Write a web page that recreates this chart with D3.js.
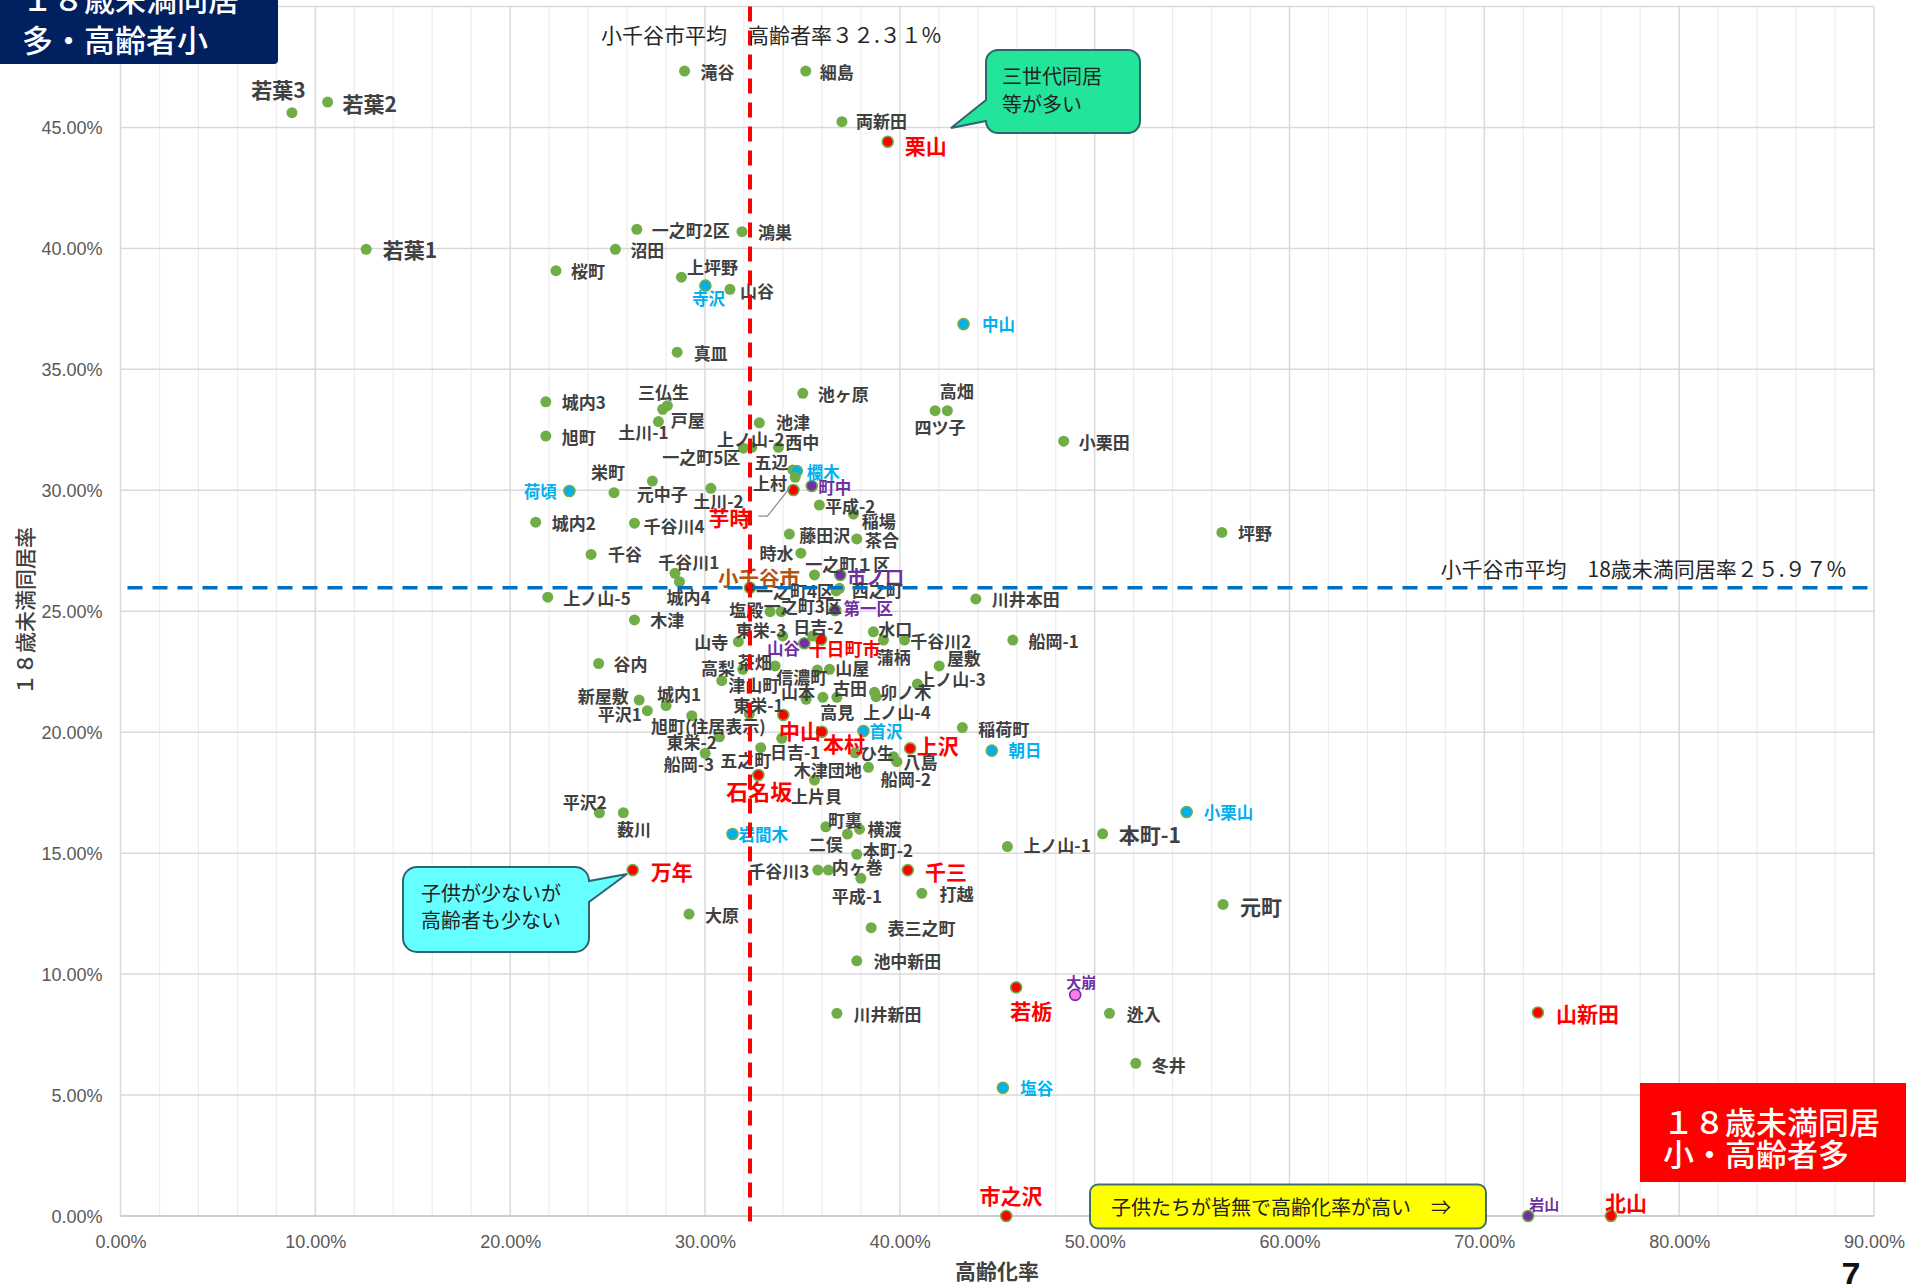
<!DOCTYPE html>
<html lang="ja">
<head>
<meta charset="utf-8">
<title>高齢化率と18歳未満同居率</title>
<script src="https://cdn.jsdelivr.net/npm/d3@7"></script>
<style>
  html, body { margin: 0; padding: 0; background: #fff; overflow: hidden; }
  svg { display: block; }
</style>
</head>
<body>
<div id="chart"></div>
<script>
// ---------------------------------------------------------------
// data: 地区別 高齢化率 (x) と 18歳未満同居率 (y), 単位 %
// group: g 通常, r 赤, c 水色, p 紫, k ピンク, a 市平均
// ---------------------------------------------------------------
const districtNames = [
    '若葉3', '若葉2', '若葉1', '滝谷', '細島', '両新田', '栗山', '一之町2区', '鴻巣', '沼田',
    '桜町', '上坪野', '寺沢', '山谷', '真皿', '中山', '池ヶ原', '高畑', '四ツ子', '小栗田',
    '城内3', '三仏生', '戸屋', '土川-1', '旭町', '池津', '一之町5区', '上ノ山-2', '西中', '五辺',
    '欄木', '上村', '町中', '芋時', '平成-2', '稲場', '茶合', '藤田沢', '時水', '一之町１区',
    '市ノ口', '小千谷市', '西之町', '一之町4区', '第一区', '塩殿', '一之町3区', '荷頃', '栄町', '元中子',
    '土川-2', '城内2', '千谷川4', '千谷', '千谷川1', '城内4', '上ノ山-5', '川井本田', '木津', '船岡-1',
    '山寺', '東栄-3', '日吉-2', '十日町市', '山谷', '水口', '蒲柄', '千谷川2', '屋敷', '上ノ山-3',
    '卯ノ木', '上ノ山-4', '古田', '高見', '山屋', '信濃町', '茶畑', '高梨', '津山町', '山本',
    '谷内', '新屋敷', '平沢1', '城内1', '旭町(住居表示)', '東栄-1', '中山', '本村', '首沢', '稲荷町',
    '朝日', '上沢', '東栄-2', '船岡-3', '日吉-1', '五之町', 'ひ生', '八島', '船岡-2', '木津団地',
    '石名坂', '上片貝', '平沢2', '薮川', '岩間木', '町裏', '二俣', '横渡', '本町-2', '千谷川3',
    '内ヶ巻', '平成-1', '万年', '千三', '打越', '大原', '表三之町', '池中新田', '上ノ山-1', '若栃',
    '川井新田', '大崩', '迯入', '冬井', '塩谷', '市之沢', '坪野', '小栗山', '本町-1', '元町',
    '山新田', '岩山', '北山'
];

const agingRates = [
    8.80, 10.63, 12.61, 28.95, 35.17, 37.03, 39.38, 26.50, 31.90, 25.40,
    22.35, 28.79, 30.02, 31.28, 28.57, 43.27, 35.02, 42.44, 41.81, 48.41,
    21.83, 28.07, 27.83, 27.61, 21.83, 32.79, 31.97, 32.40, 33.77, 34.51,
    34.71, 34.63, 35.48, 34.54, 35.87, 37.62, 37.79, 34.33, 34.92, 35.62,
    36.94, 32.31, 36.90, 36.73, 36.68, 33.34, 33.91, 23.04, 27.30, 25.33,
    30.30, 21.31, 26.38, 24.15, 28.46, 28.69, 21.93, 43.90, 26.38, 45.80,
    31.71, 33.99, 35.53, 35.96, 35.10, 38.64, 39.16, 40.24, 42.02, 40.90,
    38.70, 38.78, 36.77, 36.05, 36.39, 35.77, 33.60, 31.94, 30.86, 35.19,
    24.54, 26.62, 27.04, 28.00, 29.32, 32.28, 34.02, 36.00, 38.13, 43.21,
    44.72, 40.53, 30.74, 30.01, 33.94, 32.86, 37.70, 39.67, 39.85, 38.39,
    32.74, 35.62, 24.58, 25.81, 31.41, 36.20, 37.31, 37.93, 37.79, 35.79,
    36.33, 38.00, 26.29, 40.41, 41.13, 29.18, 38.53, 37.79, 45.52, 45.97,
    36.77, 49.00, 50.76, 52.11, 45.29, 45.46, 56.53, 54.72, 50.41, 56.59,
    72.75, 72.25, 76.50
];

const youthRates = [
    45.61, 46.05, 39.96, 47.33, 47.33, 45.24, 44.41, 40.79, 40.69, 39.96,
    39.08, 38.81, 38.46, 38.31, 35.71, 36.87, 34.01, 33.29, 33.29, 32.03,
    33.66, 33.50, 33.35, 32.84, 32.24, 32.79, 31.74, 31.78, 31.78, 30.84,
    30.80, 30.54, 30.18, 30.01, 29.39, 29.02, 27.99, 28.19, 27.40, 26.50,
    26.50, 25.97, 25.95, 25.84, 25.05, 24.98, 24.98, 29.97, 30.38, 29.90,
    30.08, 28.68, 28.64, 27.35, 26.57, 26.22, 25.58, 25.51, 24.64, 23.81,
    23.74, 23.98, 23.98, 23.83, 23.68, 24.15, 23.81, 23.81, 22.74, 21.99,
    21.65, 21.47, 21.44, 21.44, 22.60, 22.57, 22.74, 22.60, 22.13, 21.36,
    22.84, 21.33, 20.89, 21.10, 20.68, 20.75, 20.71, 20.02, 20.05, 20.19,
    19.24, 19.33, 19.81, 19.13, 19.75, 19.36, 19.15, 18.99, 18.78, 18.55,
    18.23, 18.02, 16.67, 16.67, 15.79, 16.09, 15.79, 15.99, 14.95, 14.30,
    14.30, 13.96, 14.30, 14.30, 13.34, 12.48, 11.92, 10.55, 15.27, 9.45,
    8.38, 9.14, 8.38, 6.31, 5.30, 0.00, 28.26, 16.70, 15.80, 12.88,
    8.41, 0.00, 0.00
];

const districtGroups = [
    'g', 'g', 'g', 'g', 'g', 'g', 'r', 'g', 'g', 'g',
    'g', 'g', 'c', 'g', 'g', 'c', 'g', 'g', 'g', 'g',
    'g', 'g', 'g', 'g', 'g', 'g', 'g', 'g', 'g', 'g',
    'c', 'g', 'p', 'r', 'g', 'g', 'g', 'g', 'g', 'g',
    'p', 'a', 'g', 'g', 'p', 'g', 'g', 'c', 'g', 'g',
    'g', 'g', 'g', 'g', 'g', 'g', 'g', 'g', 'g', 'g',
    'g', 'g', 'g', 'r', 'p', 'g', 'g', 'g', 'g', 'g',
    'g', 'g', 'g', 'g', 'g', 'g', 'g', 'g', 'g', 'g',
    'g', 'g', 'g', 'g', 'g', 'g', 'r', 'r', 'c', 'g',
    'c', 'r', 'g', 'g', 'g', 'g', 'g', 'g', 'g', 'g',
    'r', 'g', 'g', 'g', 'c', 'g', 'g', 'g', 'g', 'g',
    'g', 'g', 'r', 'r', 'g', 'g', 'g', 'g', 'g', 'r',
    'g', 'k', 'g', 'g', 'c', 'r', 'g', 'c', 'g', 'g',
    'r', 'p', 'r'
];

const averageAging = 32.31;
const averageYouth = 25.97;

const xTicks = [0, 10, 20, 30, 40, 50, 60, 70, 80, 90];
const yTicks = [0, 5, 10, 15, 20, 25, 30, 35, 40, 45, 50];

const xTitle = '高齢化率';
const yTitle = '１８歳未満同居率';

// ---------------------------------------------------------------
// label layout: [anchor s/m/e, dx, dy, font size (optional)]
// ---------------------------------------------------------------
const labelLayout = [
    ['m', -13.5, -24, 21], ['s', 15, 1, 21], ['s', 16.5, 0, 21], ['s', 16, 0], ['s', 14, 0], ['s', 14, -1], ['s', 17, 3], ['s', 15, 0], ['s', 16, 0], ['s', 15, 0],
    ['s', 15, 0], ['s', 5.6, -10.6], ['m', 3, 12.6], ['s', 10, 1.4], ['s', 16.5, 0], ['s', 18.5, 0], ['s', 15, 0.5], ['m', 9.4, -20.5], ['m', 5, 16], ['s', 15, 0],
    ['s', 16, 0], ['m', -4, -14], ['s', 8, 10], ['m', -15, 10], ['s', 16, 0], ['s', 16.7, -1], ['e', -3, 8], ['m', -1, -9], ['s', 6.7, -5.6], ['e', -4.4, -8.3],
    ['s', 10, 0.7], ['e', -8.3, 5.4], ['s', 6.6, 0.7], ['e', -43, 26.7], ['s', 5.7, 0], ['s', 8.4, 6], ['s', 8.3, 0.3], ['s', 10, 0], ['e', -7.4, -0.6], ['s', -9.3, -11.7],
    ['s', 6.7, 1.7, 19], ['m', 9, -11], ['s', 12.4, 1.7], ['e', -2, 0], ['s', 8.3, -1.7], ['e', -6.7, -2.4], ['m', 21.5, -6.7], ['e', -12.6, 0], ['e', -27.3, -9.3], ['s', 22.7, 0.6],
    ['m', 7.6, 11.7], ['s', 16, 0], ['s', 9, 2.4], ['s', 17, -1], ['m', 13.8, -11.6], ['m', 9, 15], ['s', 15.6, 0], ['s', 16, 0], ['s', 15.7, -0.7], ['s', 15.6, 0],
    ['e', -10, 0], ['m', -21.7, -6], ['m', 5.6, -9.3], ['s', -12.7, 8.8, 18], ['e', -4.3, 5], ['s', 5, -3.4], ['s', -6.6, 16], ['s', 5.7, 0], ['s', 7.7, -8.7], ['s', 1, -5.7],
    ['s', 5.7, -0.6], ['s', -12.7, 15], ['s', -4, -10], ['s', -2.7, 14.4], ['s', 5.7, -2], ['m', -15.6, 6.7], ['e', -3.3, -4.3], ['e', -7.7, -2], ['s', 6.6, 4.3], ['m', -8, -8.3],
    ['s', 14.8, 0], ['e', -10.5, -4.7], ['e', -5.5, 3], ['m', 13, -11.7], ['m', 16.6, 10], ['m', 9, -10], ['m', 16.7, 15], ['s', 1, 11], ['s', 6, 0], ['s', 16, 0.6],
    ['s', 16.6, -0.7], ['s', 6.7, -3.3], ['e', -2.6, 5], ['m', -16.3, 10], ['m', 13.3, 13.4], ['m', -15, 12.3], ['s', 5, 0], ['s', 10, 5], ['m', 9, 16.6], ['e', -6.6, 2],
    ['m', 0.8, 15, 22], ['m', 2, 15], ['m', -14.6, -11], ['m', 10.7, 15.6], ['s', 6, 0], ['m', 19.3, -7.4], ['e', -4.6, 9.3], ['s', 8, -1], ['s', 6, -5], ['e', -8.4, 0],
    ['s', 3.4, -3.3], ['m', -4, 16.7], ['s', 18, 0.7], ['s', 17.3, 0.7], ['s', 17.6, 0], ['s', 16, 0], ['s', 16.3, 0], ['s', 16.6, 0], ['s', 16, -2], ['m', 15, 22.5],
    ['s', 16.6, 0], ['m', 6, -13.3, 15], ['s', 17.4, 0], ['s', 16, 0.7], ['s', 17.3, 0.6], ['m', 4.8, -21], ['s', 16, 0], ['s', 17, 0], ['s', 16, 0, 21], ['s', 17, 1.2, 21],
    ['s', 18, 0], ['m', 16, -13, 15], ['m', 15, -14]
];

const JP = "'Noto Sans CJK JP', 'Noto Sans', sans-serif";
const NARROW = "'Liberation Sans Narrow', 'Liberation Sans', sans-serif";

// group styles
const dotFill = { g: '#70ad47', r: '#ff0000', c: '#00b0f0', p: '#7030a0', k: '#ff7be5', a: '#c00000' };
const dotStroke = { g: 'none', r: '#70ad47', c: '#70ad47', p: '#70ad47', k: '#7030a0', a: '#70ad47' };
const labelColor = { g: '#404040', r: '#ff0000', c: '#00b0f0', p: '#7030a0', k: '#7030a0', a: '#b5540f' };
const labelSize = { g: 17, r: 21, c: 16.5, p: 16.5, k: 15, a: 20.5 };
const labelWeight = { g: 700, r: 700, c: 700, p: 700, k: 700, a: 700 };

const W = 1906, H = 1284;
const margin = { left: 120.5, top: 6.5, right: 32, bottom: 68 };
const innerW = W - margin.left - margin.right;
const innerH = H - margin.top - margin.bottom;

const svg = d3.select('#chart').append('svg')
    .attr('width', W)
    .attr('height', H)
    .style('font-family', JP);

svg.append('rect').attr('width', W).attr('height', H).attr('fill', '#fff');

const x = d3.scaleLinear().domain([0, 90]).range([0, innerW]);
const y = d3.scaleLinear().domain([0, 50]).range([innerH, 0]);

const plot = svg.append('g').attr('transform', `translate(${margin.left},${margin.top})`);

// gridlines: minor vertical every 2%, major vertical every 10%, horizontal every 5%
plot.append('g').selectAll('line')
    .data(d3.range(0, 91, 2).filter(d => d % 10 !== 0))
    .enter().append('line')
    .attr('x1', d => x(d)).attr('x2', d => x(d))
    .attr('y1', 0).attr('y2', innerH)
    .attr('stroke', '#ededed').attr('stroke-width', 1.2);

plot.append('g').selectAll('line')
    .data(xTicks)
    .enter().append('line')
    .attr('x1', d => x(d)).attr('x2', d => x(d))
    .attr('y1', 0).attr('y2', innerH)
    .attr('stroke', '#d9d9d9').attr('stroke-width', 1.5);

plot.append('g').selectAll('line')
    .data(yTicks)
    .enter().append('line')
    .attr('x1', 0).attr('x2', innerW)
    .attr('y1', d => y(d)).attr('y2', d => y(d))
    .attr('stroke', d => d === 0 ? '#bfbfbf' : '#d9d9d9').attr('stroke-width', 1.5);

// axes
const xAxis = plot.append('g')
    .attr('transform', `translate(0,${innerH})`)
    .call(d3.axisBottom(x).tickValues(xTicks).tickSize(0).tickFormat(d => d.toFixed(2) + '%'));
xAxis.select('.domain').remove();
xAxis.selectAll('text')
    .attr('y', 26).attr('dy', '0.35em')
    .style('font-family', NARROW).style('font-size', '18px').attr('fill', '#595959');

const yAxis = plot.append('g')
    .call(d3.axisLeft(y).tickValues(yTicks).tickSize(0).tickPadding(18).tickFormat(d => d.toFixed(2) + '%'));
yAxis.select('.domain').remove();
yAxis.selectAll('text')
    .attr('dy', '0.35em')
    .style('font-family', NARROW).style('font-size', '18px').attr('fill', '#595959');

// points
const points = districtNames.map((name, i) => ({
    name: name,
    aging: agingRates[i],
    youth: youthRates[i],
    group: districtGroups[i],
    layout: labelLayout[i]
}));

plot.append('g').selectAll('circle')
    .data(points)
    .enter().append('circle')
    .attr('cx', d => x(d.aging))
    .attr('cy', d => y(d.youth))
    .attr('r', 5.5)
    .attr('fill', d => dotFill[d.group])
    .attr('stroke', d => dotStroke[d.group])
    .attr('stroke-width', 1.6);

// leader line for 芋時
const imotoki = points.find(d => d.name === '芋時');
const leader = [[-35, 26], [-26, 26], [-3, -3]];
plot.append('path')
    .attr('d', d3.line()(leader.map(p => [x(imotoki.aging) + p[0], y(imotoki.youth) + p[1]])))
    .attr('fill', 'none').attr('stroke', '#8c8c8c').attr('stroke-width', 1.2);

// labels
const anchorOf = { s: 'start', m: 'middle', e: 'end' };
plot.append('g').selectAll('text')
    .data(points)
    .enter().append('text')
    .attr('x', d => x(d.aging) + d.layout[1])
    .attr('y', d => y(d.youth) + d.layout[2])
    .attr('dominant-baseline', 'central')
    .attr('text-anchor', d => anchorOf[d.layout[0]])
    .style('font-size', d => (d.layout[3] || labelSize[d.group]) + 'px')
    .style('font-weight', d => labelWeight[d.group])
    .attr('fill', d => labelColor[d.group])
    .text(d => d.name);

// average lines
plot.append('line')
    .attr('x1', x(averageAging)).attr('x2', x(averageAging))
    .attr('y1', 0).attr('y2', innerH + 11)
    .attr('stroke', '#ff0000').attr('stroke-width', 4)
    .attr('stroke-dasharray', '15 9');

plot.append('line')
    .attr('x1', 7).attr('x2', innerW - 2)
    .attr('y1', y(averageYouth)).attr('y2', y(averageYouth))
    .attr('stroke', '#0070c0').attr('stroke-width', 3.5)
    .attr('stroke-dasharray', '15 10');

plot.append('text')
    .attr('x', x(averageAging) - 149).attr('y', 27)
    .attr('dominant-baseline', 'central')
    .style('font-size', '21px').attr('fill', '#262626')
    .text('小千谷市平均　高齢者率３２.３１%');

plot.append('text')
    .attr('x', innerW - 28).attr('y', y(averageYouth) - 20)
    .attr('text-anchor', 'end')
    .attr('dominant-baseline', 'central')
    .style('font-size', '21px').attr('fill', '#262626')
    .text('小千谷市平均　18歳未満同居率２５.９７%');

// axis titles
svg.append('text')
    .attr('x', 997).attr('y', 1270)
    .attr('text-anchor', 'middle').attr('dominant-baseline', 'central')
    .style('font-size', '21px').style('font-weight', 700).attr('fill', '#404040')
    .text(xTitle);

svg.append('text')
    .attr('transform', 'translate(24,611) rotate(-90)')
    .attr('text-anchor', 'middle').attr('dominant-baseline', 'central')
    .style('font-size', '21px').style('font-weight', 500).attr('fill', '#404040')
    .text(yTitle);

// callouts
function drawCallout(pathD, fill, lines, tx, ty, lh) {
    svg.append('path')
        .attr('d', pathD)
        .attr('fill', fill).attr('stroke', '#2f6470').attr('stroke-width', 2);
    lines.forEach((t, i) => {
        svg.append('text')
            .attr('x', tx).attr('y', ty + i * lh)
            .attr('dominant-baseline', 'central')
            .style('font-size', '20px').attr('fill', '#222')
            .text(t);
    });
}

drawCallout(
    'M998,50 H1128 A12,12 0 0 1 1140,62 V121 A12,12 0 0 1 1128,133 H998 A12,12 0 0 1 986,121 L951,128 L986,100 V62 A12,12 0 0 1 998,50 Z',
    '#22e59b', ['三世代同居', '等が多い'], 1002, 75, 28);

drawCallout(
    'M417,867 H575 A14,14 0 0 1 589,881 L627,874 L589,902 V938 A14,14 0 0 1 575,952 H417 A14,14 0 0 1 403,938 V881 A14,14 0 0 1 417,867 Z',
    '#66ffff', ['子供が少ないが', '高齢者も少ない'], 421, 892, 27);

// yellow note
svg.append('rect')
    .attr('x', 1090).attr('y', 1184.5).attr('width', 396).attr('height', 44).attr('rx', 8)
    .attr('fill', '#ffff00').attr('stroke', '#3f6f73').attr('stroke-width', 2);
svg.append('text')
    .attr('x', 1111).attr('y', 1206.5)
    .attr('dominant-baseline', 'central')
    .style('font-size', '20px').attr('fill', '#222')
    .text('子供たちが皆無で高齢化率が高い　⇒');

// quadrant boxes
svg.append('rect')
    .attr('x', 1640).attr('y', 1083).attr('width', 270).attr('height', 99)
    .attr('fill', '#ff0000');
['１８歳未満同居', '小・高齢者多'].forEach((t, i) => {
    svg.append('text')
        .attr('x', 1663).attr('y', 1120 + i * 32)
        .attr('dominant-baseline', 'central')
        .style('font-size', '31px').style('font-weight', 500).attr('fill', '#fff')
        .text(t);
});

svg.append('rect')
    .attr('x', -4).attr('y', -6).attr('width', 282).attr('height', 70).attr('rx', 4)
    .attr('fill', '#002060');
['１８歳未満同居', '多・高齢者小'].forEach((t, i) => {
    svg.append('text')
        .attr('x', 22).attr('y', -3 + i * 41)
        .attr('dominant-baseline', 'central')
        .style('font-size', '31px').style('font-weight', 500).attr('fill', '#fff')
        .text(t);
});

// page number
svg.append('text')
    .attr('x', 1851).attr('y', 1274)
    .attr('text-anchor', 'middle').attr('dominant-baseline', 'central')
    .style('font-family', "'Liberation Sans', sans-serif")
    .style('font-size', '34px').style('font-weight', 700).attr('fill', '#111')
    .text('7');
</script>
</body>
</html>
